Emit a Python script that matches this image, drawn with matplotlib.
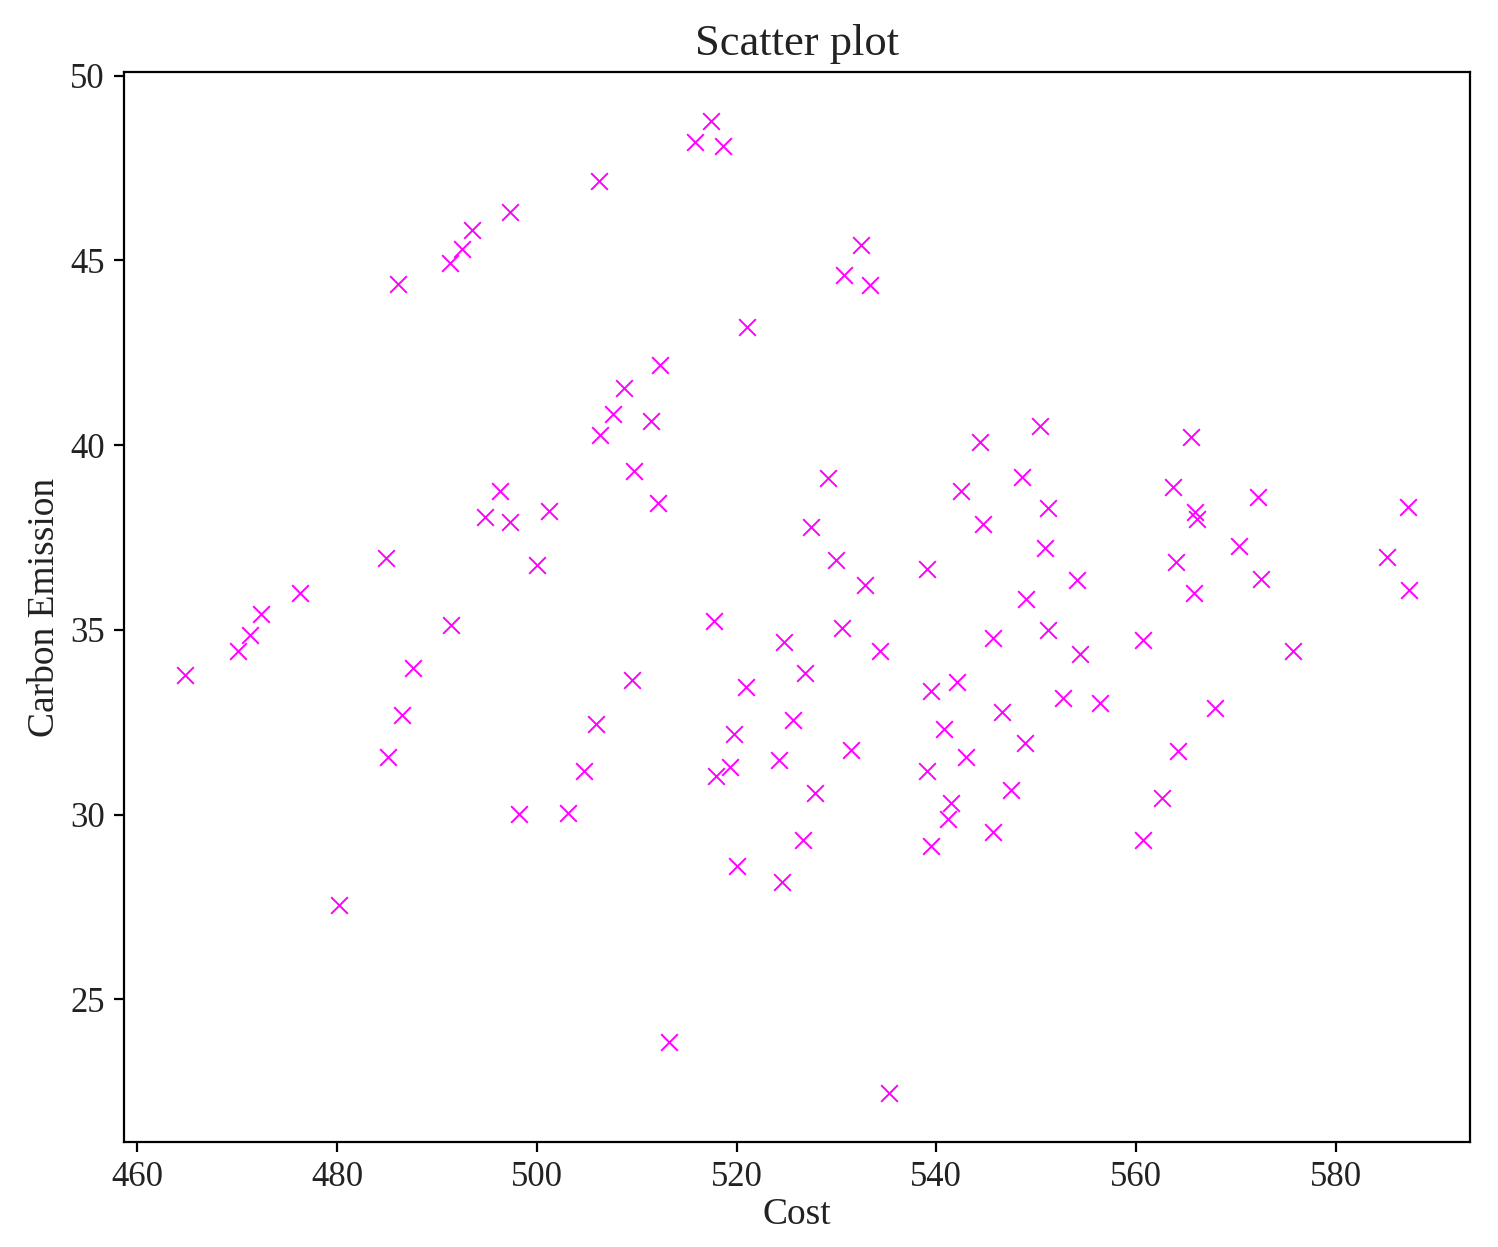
import matplotlib
matplotlib.use("Agg")
import matplotlib.pyplot as plt

# values
cost = [464.8, 470.1, 471.3, 472.4, 476.3, 480.2, 484.9, 485.1, 486.1, 486.5,
        487.6, 491.3, 491.4, 492.5, 493.5, 494.8, 496.3, 497.3, 497.3, 498.2,
        500.0, 501.2, 503.1, 504.7, 505.9, 506.2, 506.3, 507.6, 508.7, 509.5,
        509.7, 511.4, 512.1, 512.3, 513.2, 515.8, 517.4, 517.7, 517.9, 518.6,
        519.3, 519.7, 520.0, 520.9, 521.0, 524.2, 524.5, 524.7, 525.6, 526.6,
        526.8, 527.5, 527.9, 529.2, 530.0, 530.6, 530.8, 531.5, 532.5, 532.9,
        533.4, 534.4, 535.3, 539.1, 539.1, 539.5, 539.5, 540.8, 541.2, 541.5,
        542.1, 542.5, 543.0, 544.4, 544.7, 545.7, 545.7, 546.6, 547.5, 548.6,
        548.9, 549.0, 550.4, 550.9, 551.2, 551.2, 552.7, 554.1, 554.4, 556.4,
        560.7, 560.7, 562.6, 563.7, 564.0, 564.2, 565.5, 565.8, 565.9, 566.1,
        567.9, 570.3, 572.2, 572.5, 575.7, 585.1, 587.2, 587.3]
emission = [33.78, 34.43, 34.86, 35.43, 36.00, 27.57, 36.95, 31.57, 44.35, 32.70,
            33.97, 44.92, 35.14, 45.30, 45.81, 38.05, 38.76, 46.30, 37.92, 30.03,
            36.76, 38.22, 30.05, 31.19, 32.46, 47.14, 40.27, 40.84, 41.54, 33.65,
            39.30, 40.65, 38.43, 42.16, 23.86, 48.19, 48.78, 35.24, 31.05, 48.08,
            31.30, 32.19, 28.62, 33.46, 43.19, 31.49, 28.19, 34.68, 32.57, 29.32,
            33.84, 37.78, 30.59, 39.11, 36.89, 35.05, 44.59, 31.76, 45.41, 36.22,
            44.32, 34.43, 22.46, 36.65, 31.19, 33.35, 29.16, 32.32, 29.89, 30.32,
            33.59, 38.76, 31.57, 40.08, 37.86, 34.78, 29.54, 32.78, 30.68, 39.14,
            31.95, 35.84, 40.51, 37.22, 35.00, 38.30, 33.16, 36.35, 34.35, 33.03,
            34.73, 29.32, 30.46, 38.86, 36.84, 31.73, 40.22, 36.00, 38.19, 38.00,
            32.89, 37.27, 38.59, 36.38, 34.43, 36.97, 38.32, 36.08]

plt.rcParams['font.family'] = ['Liberation Serif', 'DejaVu Serif']
plt.rcParams['text.color'] = '#222222'
plt.rcParams['axes.labelcolor'] = '#222222'
plt.rcParams['xtick.labelcolor'] = '#222222'
plt.rcParams['ytick.labelcolor'] = '#222222'

fig = plt.figure(figsize=(7.49, 6.235), dpi=200)
ax = fig.add_axes([0.0828, 0.0842, 0.8985, 0.8581])
ax.scatter(cost, emission, c='magenta', marker='x', s=36, linewidths=0.7)
ax.set_title("Scatter plot", fontsize=16)
ax.set_xlabel("Cost", fontsize=13.5, labelpad=1)
ax.set_ylabel("Carbon Emission", fontsize=13.5, labelpad=3)
ax.tick_params(labelsize=12.5)
fig.savefig("out.png", dpi=200)
